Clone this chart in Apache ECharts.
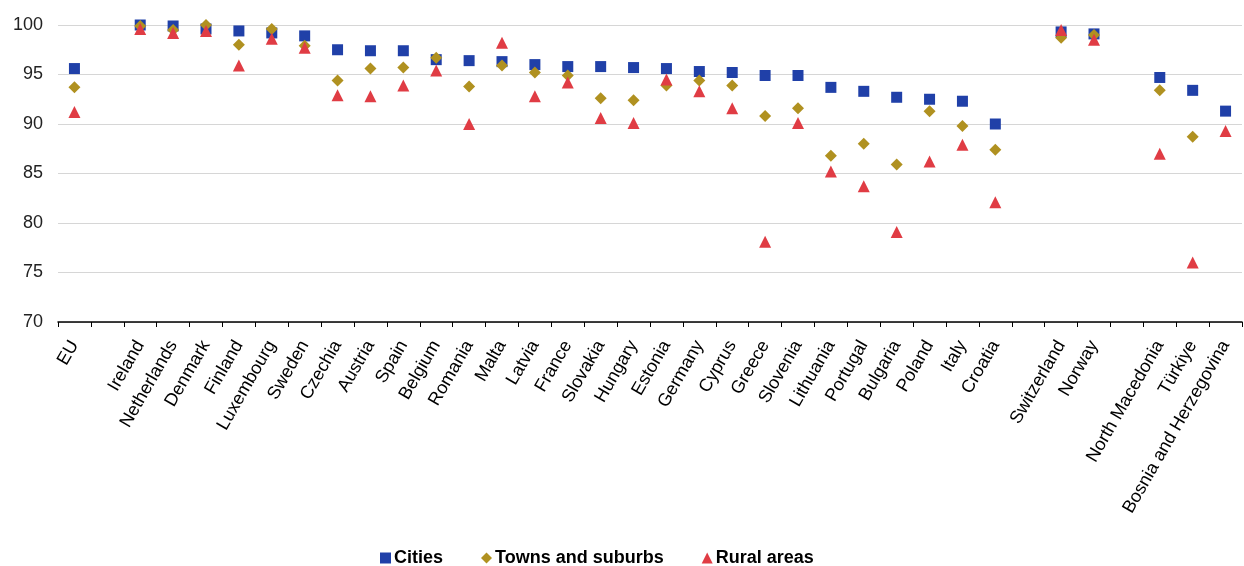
<!DOCTYPE html>
<html>
<head>
<meta charset="utf-8">
<script src="https://cdn.jsdelivr.net/npm/echarts@6/dist/echarts.min.js"></script>
<style>
html,body{margin:0;padding:0;background:#fff;}
#chart{width:1244px;height:566px;}
</style>
</head>
<body>
<div id="chart"></div>
<script>
var categories = ['EU',' ','Ireland','Netherlands','Denmark','Finland','Luxembourg','Sweden','Czechia','Austria','Spain','Belgium','Romania','Malta','Latvia','France','Slovakia','Hungary','Estonia','Germany','Cyprus','Greece','Slovenia','Lithuania','Portugal','Bulgaria','Poland','Italy','Croatia','  ','Switzerland','Norway','   ','North Macedonia','Türkiye','Bosnia and Herzegovina'];
var cities = [95.6,null,100.0,99.9,99.6,99.4,99.2,98.9,97.5,97.4,97.4,96.5,96.4,96.3,96.0,95.8,95.8,95.7,95.6,95.3,95.2,94.9,94.9,93.7,93.3,92.7,92.5,92.3,90.0,null,99.3,99.1,null,94.7,93.4,91.3];
var towns = [93.7,null,99.9,99.5,100.0,98.0,99.6,97.9,94.4,95.6,95.7,96.7,93.8,95.9,95.2,94.9,92.6,92.4,93.9,94.4,93.9,90.8,91.6,86.8,88.0,85.9,91.3,89.8,87.4,null,98.7,99.0,null,93.4,88.7,null];
var rural = [91.2,null,99.6,99.2,99.4,95.9,98.6,97.7,92.9,92.8,93.9,95.4,90.0,98.2,92.8,94.2,90.6,90.1,94.5,93.3,91.6,78.1,90.1,85.2,83.7,79.1,86.2,87.9,82.1,null,99.5,98.5,null,87.0,76.0,89.3];
var yTicks = [70,75,80,85,90,95,100];

var chart = echarts.init(document.getElementById('chart'));
chart.setOption({
  animation: false,
  textStyle: {fontFamily: 'Liberation Sans, Arial, sans-serif'},
  grid: {left: 58, right: 2, top: 25, bottom: 244, containLabel: false},
  legend: {
    top: 544, left: 375,
    itemWidth: 11, itemHeight: 11, itemGap: 38,
    textStyle: {fontSize: 18, fontWeight: 'bold', color: '#000', padding: [0,0,0,-2]},
    data: [
      {name: 'Cities', icon: 'rect'},
      {name: 'Towns and suburbs', icon: 'diamond'},
      {name: 'Rural areas', icon: 'triangle'}
    ]
  },
  xAxis: {
    type: 'category',
    data: categories,
    boundaryGap: true,
    axisLine: {lineStyle: {color: '#000', width: 1.5}},
    axisTick: {show: true, alignWithLabel: false, interval: 0, length: 5, lineStyle: {color: '#000'}},
    axisLabel: {interval: 0, rotate: 60, fontSize: 18, color: '#000', margin: 20},
    splitLine: {show: false}
  },
  yAxis: {
    type: 'value',
    min: yTicks[0], max: yTicks[yTicks.length-1], interval: 5,
    axisLine: {show: false},
    axisTick: {show: false},
    axisLabel: {fontSize: 18, color: '#222', margin: 15},
    splitLine: {lineStyle: {color: '#d6d6d6', width: 1}}
  },
  series: [
    {name: 'Cities', type: 'scatter', symbol: 'rect', symbolSize: 11, data: cities, itemStyle: {color: '#2040A8', opacity: 1}, z: 3},
    {name: 'Towns and suburbs', type: 'scatter', symbol: 'diamond', symbolSize: 12, data: towns, itemStyle: {color: '#B09120', opacity: 1}, z: 4},
    {name: 'Rural areas', type: 'scatter', symbol: 'triangle', symbolSize: 12, data: rural, itemStyle: {color: '#E03C44', opacity: 1}, z: 5}
  ]
});
</script>
</body>
</html>
